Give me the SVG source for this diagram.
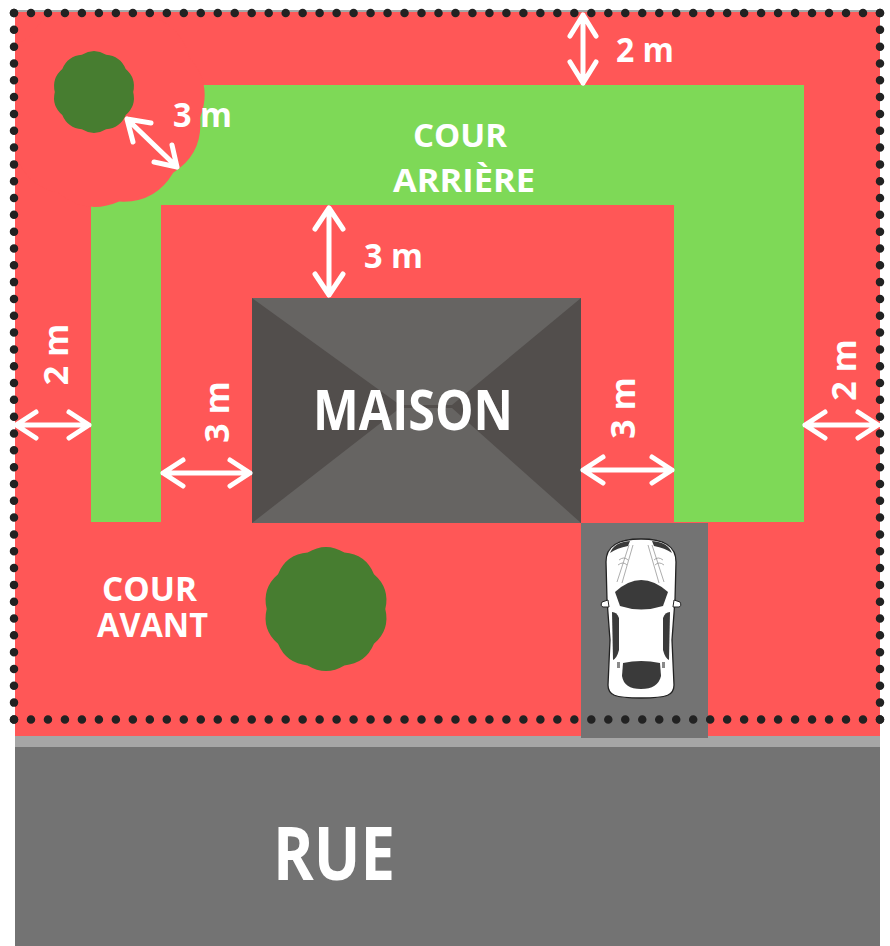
<svg xmlns="http://www.w3.org/2000/svg" xmlns:xlink="http://www.w3.org/1999/xlink" width="890" height="946" viewBox="0 0 890 946">
<style>
.lbl{font-family:"Open Sans","Liberation Sans",sans-serif;font-weight:700;fill:#ffffff}
.arr{fill:none;stroke:#ffffff;stroke-width:5;stroke-linecap:round;stroke-linejoin:round}
.dots{fill:none;stroke:#222222;stroke-width:8.5;stroke-linecap:round}
.tree{fill:#477d30}
.dark{fill:#3a3a3a}
.hl{fill:none;stroke:#8a8a8a;stroke-width:0.7}
</style>
<defs>
<path id="blob" d="M100,0 Q108.4,35.2 80.9,58.8 Q67,92.2 30.9,95.1 Q0,114 -30.9,95.1 Q-67,92.2 -80.9,58.8 Q-108.4,35.2 -100,0 Q-108.4,-35.2 -80.9,-58.8 Q-67,-92.2 -30.9,-95.1 Q0,-114 30.9,-95.1 Q67,-92.2 80.9,-58.8 Q108.4,-35.2 100,0 Z"/>
<clipPath id="lotclip"><rect x="15" y="12" width="865" height="724"/></clipPath>
</defs>
<rect x="0" y="0" width="890" height="946" fill="#ffffff"/>
<g id="ground">
<rect x="15" y="10" width="865" height="3" fill="#a6a6a6"/>
<rect x="15" y="12" width="865" height="724" fill="#ff5757"/>
<rect x="15" y="736" width="865" height="11" fill="#a6a6a6"/>
<rect x="15" y="747" width="865" height="199" fill="#737373"/>
</g>
<g id="cour-arriere">
<path d="M91,85 H804 V522 H674 V205 H161 V522 H91 Z" fill="#7ed957"/>
<g clip-path="url(#lotclip)">
<use xlink:href="#blob" transform="translate(102,104) scale(0.99) rotate(8)" fill="#ff5757"/>
</g>
</g>
<g id="tree1"><use xlink:href="#blob" class="tree" transform="translate(94,92) scale(0.392)"/></g>
<g id="tree2"><use xlink:href="#blob" class="tree" transform="translate(326,609) scale(0.593)"/></g>
<g id="maison">
<rect x="252" y="298" width="329" height="225" fill="#524e4c"/>
<polygon points="252,298 581,298 452,405 400,405" fill="#666462"/>
<polygon points="252,523 581,523 452,408 400,408" fill="#666462"/>
</g>
<g id="driveway"><rect x="581" y="523" width="127" height="215" fill="#737373"/></g>
<g id="car">
<path d="M641,539 C663,539 676,545 676,562 L675,600 L672,640 L674,685 C674,695 668,698 641,698 C614,698 608,695 608,685 L610,640 L607,600 L606,562 C606,545 619,539 641,539 Z" fill="#ffffff" stroke="#222222" stroke-width="1.3"/>
<path d="M608,600 L602,602 Q600,606 603,607 L609,607 Z" fill="#ffffff" stroke="#222222" stroke-width="1"/>
<path d="M674,600 L680,602 Q682,606 679,607 L673,607 Z" fill="#ffffff" stroke="#222222" stroke-width="1"/>
<path class="dark" d="M615,592 Q641,568 668,592 L663,606 Q641,613 620,606 Z"/>
<path class="dark" d="M612,612 Q617,612 619,618 L619,650 Q617,658 613,660 Z"/>
<path class="dark" d="M670,612 Q665,612 663,618 L663,650 Q665,658 669,660 Z"/>
<path class="dark" d="M623,663 Q641,659 660,663 L661,676 Q658,689 641,689 Q624,689 622,676 Z"/>
<path class="dark" d="M610,553 Q614,542 630,541 L628,546 Q617,548 610,553 Z"/>
<path class="dark" d="M672,553 Q668,542 652,541 L654,546 Q665,548 672,553 Z"/>
<path class="hl" d="M629,545 L617,582 M633,545 L622,583 M652,545 L664,582 M648,545 L659,583"/>
<path class="hl" d="M619,560 Q624,556 628,560 M618,565 Q623,561 627,565 M663,560 Q658,556 654,560 M664,565 Q659,561 655,565"/>
<rect x="617" y="662" width="3" height="6" fill="#8a8a8a"/>
<rect x="662" y="662" width="3" height="6" fill="#8a8a8a"/>
</g>
<g id="limite">
<path class="dots" d="M14,13 H880" stroke-dasharray="0 16.98"/>
<path class="dots" d="M14,719.5 H880" stroke-dasharray="0 16.98"/>
<path class="dots" d="M14,13 V719.5" stroke-dasharray="0 16.82"/>
<path class="dots" d="M880,13 V719.5" stroke-dasharray="0 16.82"/>
</g>
<g id="connectors">
<path class="arr" d="M583,15 V83 M570,36 L583,15 L596,36 M570,62 L583,83 L596,62"/>
<path class="arr" d="M329,208 V295 M315,229 L329,208 L343,229 M315,274 L329,295 L343,274"/>
<path class="arr" d="M16,425 H89 M36,412 L16,425 L36,438 M69,412 L89,425 L69,438"/>
<path class="arr" d="M163,473 H250 M183,460 L163,473 L183,486 M230,460 L250,473 L230,486"/>
<path class="arr" d="M583,470 H672 M603,457 L583,470 L603,483 M652,457 L672,470 L652,483"/>
<path class="arr" d="M805,425 H878 M825,412 L805,425 L825,438 M858,412 L878,425 L858,438"/>
<path class="arr" d="M127,119 L177,167 M151,123 L127,119 L133,142 M172,145 L177,167 L154,162"/>
</g>
<g id="labels">
<text class="lbl" x="616" y="62" font-size="34" textLength="58" lengthAdjust="spacingAndGlyphs">2 m</text>
<text class="lbl" x="364" y="268" font-size="34" textLength="59" lengthAdjust="spacingAndGlyphs">3 m</text>
<text class="lbl" x="173" y="127" font-size="34" textLength="59" lengthAdjust="spacingAndGlyphs">3 m</text>
<text class="lbl" font-size="34" text-anchor="middle" transform="translate(68,354.5) rotate(-90)">2 m</text>
<text class="lbl" font-size="34" text-anchor="middle" transform="translate(229,412) rotate(-90)">3 m</text>
<text class="lbl" font-size="34" text-anchor="middle" transform="translate(635,408) rotate(-90)">3 m</text>
<text class="lbl" font-size="34" text-anchor="middle" transform="translate(856,370) rotate(-90)">2 m</text>
<text class="lbl" font-size="33" font-weight="600"><tspan x="413" y="147" textLength="94" lengthAdjust="spacingAndGlyphs">COUR</tspan><tspan x="393" y="192" textLength="142" lengthAdjust="spacingAndGlyphs">ARRIÈRE</tspan></text>
<text class="lbl" x="313" y="430" font-size="56" textLength="200" lengthAdjust="spacingAndGlyphs">MAISON</text>
<text class="lbl" font-size="34" font-weight="600"><tspan x="102" y="601" textLength="95" lengthAdjust="spacingAndGlyphs">COUR</tspan><tspan x="97" y="637" textLength="111" lengthAdjust="spacingAndGlyphs">AVANT</tspan></text>
<text class="lbl" x="273" y="880" font-size="73" textLength="122" lengthAdjust="spacingAndGlyphs">RUE</text>
</g>
</svg>
